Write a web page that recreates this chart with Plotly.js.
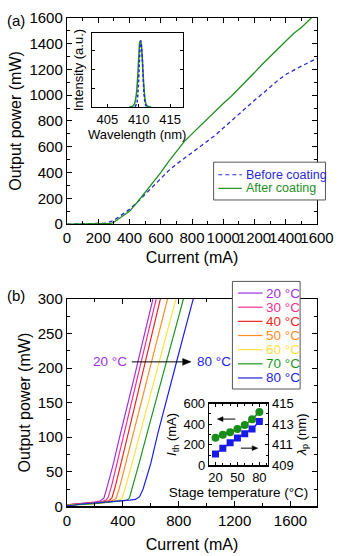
<!DOCTYPE html>
<html><head><meta charset="utf-8">
<script src="https://cdn.plot.ly/plotly-3.0.1.min.js"></script>
<style>html,body{margin:0;padding:0;background:#fff}#chart{width:350px;height:556px}</style>
</head><body><div id="chart"></div>
<script>
// ---------- Panel (a): output power vs current ----------
const currentBefore = [0, 100, 200, 250, 300, 350, 400, 450, 500, 550, 600, 650, 700, 750, 800, 850, 900, 950, 1000, 1050, 1100, 1150, 1200, 1250, 1300, 1350, 1400, 1450, 1500, 1550, 1600];
const powerBefore   = [0, 2, 4, 8, 30, 70, 115, 170, 230, 290, 350, 415, 465, 510, 555, 600, 645, 690, 745, 800, 855, 910, 960, 1010, 1065, 1115, 1160, 1195, 1225, 1255, 1285];
const currentAfter  = [0, 100, 200, 250, 280, 300, 350, 400, 450, 500, 550, 600, 650, 700, 750, 800, 850, 900, 950, 1000, 1050, 1100, 1150, 1200, 1250, 1300, 1350, 1400, 1450, 1500, 1550, 1600];
const powerAfter    = [0, 1, 2, 4, 6, 15, 55, 100, 170, 245, 320, 400, 485, 565, 640, 700, 760, 820, 875, 935, 990, 1050, 1115, 1175, 1240, 1300, 1360, 1420, 1478, 1525, 1580, 1640];
// inset (a): emission spectra
const wavelengthAfter = [408.5, 409.0, 409.3, 409.6, 409.8, 410.0, 410.15, 410.25, 410.4, 410.6, 410.8, 411.0, 411.2, 411.5, 412.0];
const intensityAfter  = [0, 0.03, 0.15, 0.6, 1.4, 2.6, 3.4, 3.5, 3.3, 2.4, 1.2, 0.45, 0.12, 0.02, 0];
const wavelengthBefore = [409.4, 409.7, 409.9, 410.1, 410.25, 410.35, 410.5, 410.7, 410.9, 411.1, 411.3];
const intensityBefore  = [0, 0.2, 0.9, 2.3, 3.3, 3.5, 3.0, 1.6, 0.5, 0.1, 0];
const seriesNamesA = ['Before coating', 'After coating'];

// ---------- Panel (b): temperature dependence ----------
const tempLabels = ['20 °C', '30 °C', '40 °C', '50 °C', '60 °C', '70 °C', '80 °C'];
const current20 = [0, 50, 100, 150, 200, 240, 265, 290, 330, 380, 430, 480, 530, 580, 630];
const power20   = [2, 3, 4, 5, 6, 8, 12, 30, 60, 103, 142, 185, 228, 270, 312];
const current30 = [0, 50, 100, 150, 200, 250, 280, 295, 320, 370, 420, 470, 520, 570, 620, 660];
const power30   = [2, 3, 3.5, 4.5, 5.5, 7, 9, 13, 30, 72, 115, 157, 198, 240, 283, 318];
const current40 = [0, 100, 200, 260, 300, 322, 350, 400, 450, 500, 550, 600, 650, 690];
const power40   = [2, 3, 5, 6.5, 8, 12, 32, 73, 115, 158, 197, 240, 283, 318];
const current50 = [0, 100, 200, 280, 330, 353, 380, 430, 480, 530, 580, 630, 680, 730];
const power50   = [1.5, 3, 4.5, 6.5, 8.5, 12, 30, 70, 108, 148, 187, 228, 268, 308];
const current60 = [0, 100, 200, 300, 370, 395, 420, 470, 520, 570, 620, 670, 720, 770, 800];
const power60   = [1.5, 2.5, 4, 6, 8.5, 12, 28, 65, 103, 140, 178, 215, 253, 292, 315];
const current70 = [0, 100, 200, 300, 400, 430, 447, 470, 520, 570, 620, 670, 720, 770, 820, 850];
const power70   = [1.5, 2.5, 4, 6, 8, 9, 12, 28, 65, 103, 140, 178, 215, 252, 289, 312];
const current80 = [0, 50, 80, 150, 250, 350, 450, 490, 520, 545, 570, 600, 650, 700, 750, 800, 850, 900, 920];
const power80   = [1, 1.5, 3, 4, 5.5, 7, 9, 10, 14, 25, 42, 62, 105, 145, 183, 221, 259, 297, 312];
// inset (b)
const stageTemp = [20, 30, 40, 50, 60, 70, 80];
const thresholdCurrent = [269, 297, 322, 353, 391, 447, 518];
const peakWavelength = [410.1, 410.66, 411.19, 411.65, 412.07, 412.53, 413.25];

// ---------- styling ----------
const W = 350, H = 556;
const px = x => x / W, py = y => 1 - y / H;
const FONT = '"Liberation Sans", Arial, sans-serif';
const blueA = '#2a2ad8', greenA = '#1f8f1f';
const tempColors = ['#a030e0', '#f0308c', '#f02424', '#ff8c1e', '#ffe040', '#1e961e', '#1e1ee6'];
const curvesB = [[current20, power20], [current30, power30], [current40, power40], [current50, power50],
                 [current60, power60], [current70, power70], [current80, power80]];

const traces = [
  {x: currentBefore, y: powerBefore, xaxis: 'x', yaxis: 'y', mode: 'lines', name: seriesNamesA[0],
   line: {color: blueA, width: 1.3, dash: '4px,3px'}},
  {x: currentAfter, y: powerAfter, xaxis: 'x', yaxis: 'y', mode: 'lines', name: seriesNamesA[1],
   line: {color: greenA, width: 1.3}},
  {x: wavelengthAfter, y: intensityAfter, xaxis: 'x2', yaxis: 'y2', mode: 'lines', line: {color: greenA, width: 1.5, shape: 'spline'}},
  {x: wavelengthBefore, y: intensityBefore, xaxis: 'x2', yaxis: 'y2', mode: 'lines', line: {color: blueA, width: 1.5, dash: '3px,2px', shape: 'spline'}},
];
curvesB.forEach((c, i) => traces.push({x: c[0], y: c[1], xaxis: 'x3', yaxis: 'y3', mode: 'lines', name: tempLabels[i],
  line: {color: tempColors[i], width: 1.2}}));
traces.push({x: stageTemp, y: thresholdCurrent, xaxis: 'x4', yaxis: 'y4', mode: 'lines+markers',
  line: {color: '#1a8c1a', width: 1.5}, marker: {symbol: 'circle', size: 8, color: '#1a8c1a'}});
traces.push({x: stageTemp, y: peakWavelength, xaxis: 'x4', yaxis: 'y5', mode: 'lines+markers',
  line: {color: '#1a1ae6', width: 1.5}, marker: {symbol: 'square', size: 7, color: '#1a1ae6'}});

const axBase = {showline: true, linecolor: '#000', linewidth: 1.2, ticks: 'inside', tickcolor: '#000',
  showgrid: false, zeroline: false, tickangle: 0, automargin: true,
  tickfont: {family: FONT, size: 15, color: '#000'}};
const titleFont = {family: FONT, size: 16, color: '#000'};
const f13 = {family: FONT, size: 13, color: '#000'};

const layout = {
  width: W, height: H, margin: {l: 0, r: 0, t: 0, b: 0},
  paper_bgcolor: '#fff', plot_bgcolor: '#fff', showlegend: false,
  font: {family: FONT, color: '#000'},
  xaxis: Object.assign({}, axBase, {domain: [px(67), px(333)], anchor: 'y', range: [0, 1600], tick0: 0, dtick: 200,
    ticklen: 5, mirror: 'ticks', minor: {dtick: 100, ticklen: 3, ticks: 'inside', tickcolor: '#000'},
    title: {text: 'Current (mA)', font: titleFont, standoff: 6}}),
  yaxis: Object.assign({}, axBase, {domain: [py(222), py(9)], anchor: 'x', range: [0, 1600], tick0: 0, dtick: 200,
    ticklen: 5, mirror: 'ticks', minor: {dtick: 100, ticklen: 3, ticks: 'inside', tickcolor: '#000'},
    title: {text: 'Output power (mW)', font: titleFont, standoff: 3}}),
  xaxis2: Object.assign({}, axBase, {domain: [px(93.3), px(190)], anchor: 'y2', range: [402.5, 417], tick0: 405, dtick: 5,
    ticklen: 3, mirror: true, tickfont: f13,
    title: {text: 'Wavelength (nm)', font: f13, standoff: 0}}),
  yaxis2: Object.assign({}, axBase, {domain: [py(101), py(25)], anchor: 'x2', range: [0, 3.9], tick0: 0, dtick: 1,
    ticklen: 3, mirror: 'ticks', showticklabels: false,
    title: {text: 'Intensity (a.u.)', font: f13, standoff: 4}}),
  xaxis3: Object.assign({}, axBase, {domain: [px(67), px(333)], anchor: 'y3', range: [0, 1790], tick0: 0, dtick: 400,
    ticklen: 5, mirror: 'ticks', minor: {dtick: 200, ticklen: 3, ticks: 'inside', tickcolor: '#000'},
    title: {text: 'Current (mA)', font: titleFont, standoff: 11}}),
  yaxis3: Object.assign({}, axBase, {domain: [py(513), py(299)], anchor: 'x3', range: [0, 300], tick0: 0, dtick: 50,
    ticklen: 5, mirror: 'ticks', minor: {dtick: 25, ticklen: 3, ticks: 'inside', tickcolor: '#000'},
    title: {text: 'Output power (mW)', font: titleFont, standoff: 3}}),
  xaxis4: Object.assign({}, axBase, {domain: [px(218), px(281)], anchor: 'y4', range: [11, 92], tickmode: 'array',
    tickvals: [20, 50, 80], ticklen: 3, mirror: 'ticks', minor: {dtick: 10, tick0: 0, ticklen: 2, ticks: 'inside', tickcolor: '#000'},
    tickfont: f13,
    title: {text: 'Stage temperature (°C)', font: {family: FONT, size: 13.5, color: '#000'}, standoff: 2}}),
  yaxis4: Object.assign({}, axBase, {domain: [py(470.7), py(407)], anchor: 'x4', range: [0, 600], tick0: 0, dtick: 200,
    ticklen: 3, minor: {dtick: 100, ticklen: 2, ticks: 'inside', tickcolor: '#000'},
    tickfont: f13,
    title: {text: '<i>I</i><sub>th</sub> (mA)', font: f13, standoff: 3}}),
  yaxis5: Object.assign({}, axBase, {overlaying: 'y4', side: 'right', anchor: 'x4', range: [409, 415], tick0: 409, dtick: 2,
    ticklen: 3, minor: {dtick: 1, ticklen: 2, ticks: 'inside', tickcolor: '#000'},
    tickfont: f13,
    title: {text: '<i>λ</i><sub>p</sub> (nm)', font: f13, standoff: 2}}),
  shapes: [],
  annotations: [
    {xref: 'paper', yref: 'paper', x: px(1), y: py(12), xanchor: 'left', yanchor: 'middle', showarrow: false,
     text: '(a)', font: {family: FONT, size: 15, color: '#000'}},
    {xref: 'paper', yref: 'paper', x: px(1), y: py(296), xanchor: 'left', yanchor: 'middle', showarrow: false,
     text: '(b)', font: {family: FONT, size: 15, color: '#000'}},
    {xref: 'paper', yref: 'paper', x: px(133), y: py(364), xanchor: 'right', yanchor: 'middle', showarrow: false,
     text: tempLabels[0], font: {family: FONT, size: 13.5, color: tempColors[0]}},
    {xref: 'paper', yref: 'paper', x: px(203), y: py(364), xanchor: 'left', yanchor: 'middle', showarrow: false,
     text: tempLabels[6], font: {family: FONT, size: 13.5, color: tempColors[6]}},
  ]
};

// arrows drawn as line + triangle head (paper coordinates, px helpers)
function arrow(x0, x1, y, head, hh) {
  const dir = x1 > x0 ? 1 : -1;
  const xb = x1 - dir * head;
  layout.shapes.push({type: 'line', xref: 'paper', yref: 'paper', x0: px(x0), x1: px(xb), y0: py(y), y1: py(y),
    line: {color: '#000', width: 1}, layer: 'above'});
  layout.shapes.push({type: 'path', xref: 'paper', yref: 'paper', layer: 'above',
    path: `M${px(xb)},${py(y - hh)} L${px(x1)},${py(y)} L${px(xb)},${py(y + hh)} Z`,
    fillcolor: '#000', line: {color: '#000', width: 0.5}});
}
arrow(136, 199, 364, 9, 3.5);   // 20 °C -> 80 °C
arrow(246, 227, 423, 6, 2.5);   // inset: I_th -> left axis
arrow(252, 270, 453, 6, 2.5);   // inset: lambda_p -> right axis

// legend (a)
const legAColors = [blueA, greenA], legADash = ['4px,3px', 'solid'];
layout.shapes.push({type: 'rect', xref: 'paper', yref: 'paper', x0: px(223), x1: px(342), y0: py(197), y1: py(158),
  line: {color: '#555', width: 1}, fillcolor: '#fff', layer: 'above'});
seriesNamesA.forEach((n, i) => {
  const yy = 171 + 14 * i;
  layout.shapes.push({type: 'line', xref: 'paper', yref: 'paper', x0: px(228), x1: px(253), y0: py(yy), y1: py(yy),
    line: {color: legAColors[i], width: 1.2, dash: legADash[i]}, layer: 'above'});
  layout.annotations.push({xref: 'paper', yref: 'paper', x: px(255), y: py(yy), xanchor: 'left', yanchor: 'middle',
    showarrow: false, text: n, font: {family: FONT, size: 12.5, color: legAColors[i]}});
});
// legend (b)
layout.shapes.push({type: 'rect', xref: 'paper', yref: 'paper', x0: px(243), x1: px(315), y0: py(392), y1: py(281),
  line: {color: '#555', width: 1}, fillcolor: '#fff', layer: 'above'});
tempLabels.forEach((n, i) => {
  const yy = 293 + 14.6 * i;
  layout.shapes.push({type: 'line', xref: 'paper', yref: 'paper', x0: px(249), x1: px(275), y0: py(yy), y1: py(yy),
    line: {color: tempColors[i], width: 1.2}, layer: 'above'});
  layout.annotations.push({xref: 'paper', yref: 'paper', x: px(277), y: py(yy), xanchor: 'left', yanchor: 'middle',
    showarrow: false, text: n, font: {family: FONT, size: 13.5, color: tempColors[i]}});
});

Plotly.newPlot('chart', traces, layout, {staticPlot: true, displayModeBar: false});
</script>
</body></html>
